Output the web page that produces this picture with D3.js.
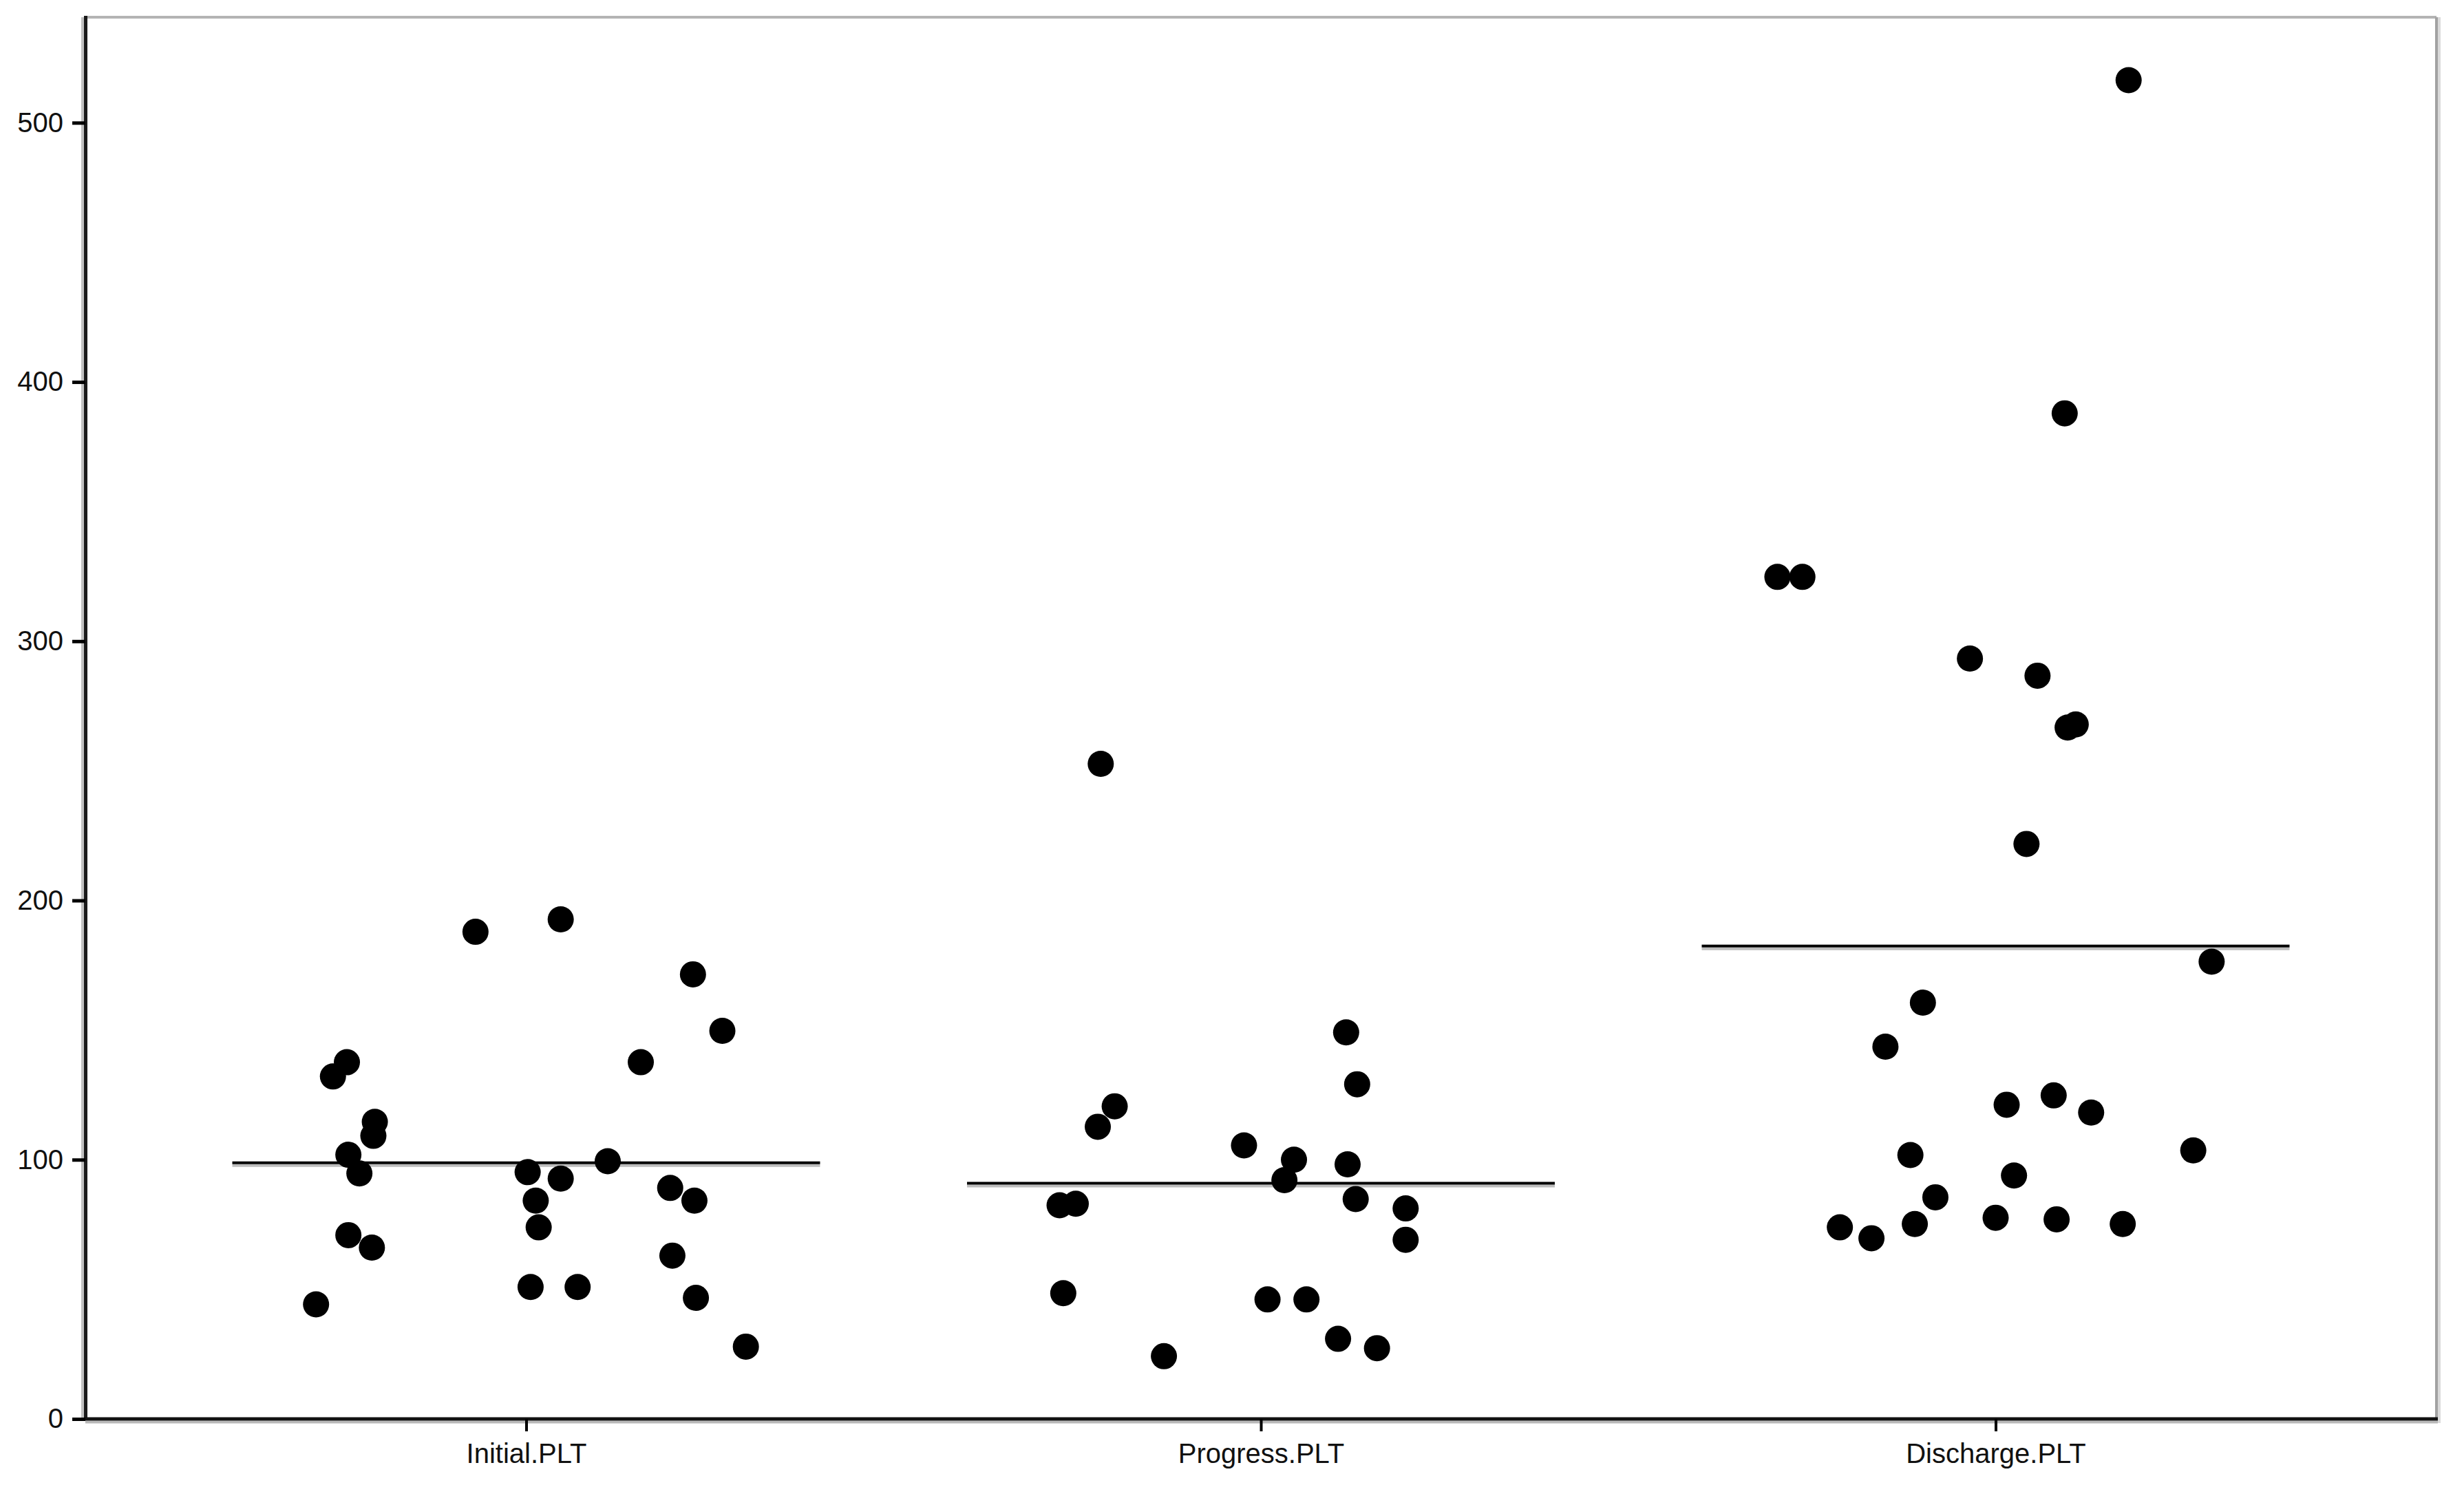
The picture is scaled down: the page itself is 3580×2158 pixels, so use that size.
<!DOCTYPE html>
<html>
<head>
<meta charset="utf-8">
<script src="https://cdn.jsdelivr.net/npm/d3@7"></script>
<style>
  body { margin: 0; background: #fff; }
  text { font-family: "Liberation Sans", Arial, sans-serif; }
</style>
</head>
<body>
<script>
// categories and tick labels
var categories = ["Initial.PLT", "Progress.PLT", "Discharge.PLT"];
var yTicks = [0, 100, 200, 300, 400, 500];

// values
var initialPLT = [44.2, 132.1, 137.6, 101.9, 94.7, 109.2, 114.6, 70.9, 66.1, 187.9, 192.7, 95.2, 84.2,
  92.7, 73.9, 50.9, 50.9, 99.4, 137.6, 171.5, 149.7, 89.1, 84.2, 63.0, 46.7, 27.9];
var progressPLT = [252.7, 112.7, 120.6, 82.4, 83.0, 48.5, 24.2, 105.5, 100.0, 92.1, 149.1, 129.1,
  98.2, 84.8, 81.2, 69.1, 46.1, 46.1, 30.9, 27.3];
var dischargePLT = [516.4, 387.9, 324.8, 324.8, 293.3, 286.7, 266.7, 267.9, 221.8, 176.4, 160.6, 143.6,
  121.2, 124.8, 118.2, 101.8, 103.6, 93.9, 85.5, 73.9, 69.7, 75.2, 77.6, 77.0, 75.2];

// horizontal jitter of each point, as a fraction of the category step
var initialJitter = [-0.286, -0.263, -0.244, -0.242, -0.227, -0.208, -0.206, -0.242, -0.210, -0.069, 0.047, 0.002, 0.013,
  0.047, 0.017, 0.006, 0.070, 0.111, 0.156, 0.227, 0.267, 0.196, 0.229, 0.199, 0.231, 0.299];
var progressJitter = [-0.218, -0.222, -0.199, -0.274, -0.252, -0.269, -0.132, -0.023, 0.045, 0.032, 0.116, 0.131,
  0.118, 0.129, 0.197, 0.197, 0.009, 0.062, 0.105, 0.158];
var dischargeJitter = [0.181, 0.094, -0.297, -0.263, -0.035, 0.057, 0.098, 0.109, 0.042, 0.294, -0.099, -0.150,
  0.015, 0.079, 0.130, -0.116, 0.269, 0.025, -0.082, -0.212, -0.169, -0.110, 0.000, 0.083, 0.173];

// group means (horizontal bars)
var meanPLT = [98.8, 90.9, 182.4];

var width = 3580, height = 2158;
// note: "top" is taken by window.top, so use other names
var plotLeft = 124, plotRight = 3540, plotTop = 25, plotBottom = 2062;
var yMax = 540.7;

var svg = d3.select("body").append("svg")
  .attr("width", width)
  .attr("height", height);

var x = d3.scalePoint().domain(categories).range([plotLeft, plotRight]).padding(0.6);
var y = d3.scaleLinear().domain([0, yMax]).range([plotBottom, plotTop]);

// frame: grey top/right, black left/bottom with a soft grey edge
var frame = svg.append("g").attr("class", "frame");
frame.append("line").attr("x1", plotLeft).attr("x2", plotRight).attr("y1", plotTop).attr("y2", plotTop)
  .attr("stroke", "#b4b4b4").attr("stroke-width", 4);
frame.append("line").attr("x1", plotRight + 4).attr("x2", plotRight + 4).attr("y1", plotTop).attr("y2", plotBottom + 6)
  .attr("stroke", "#dadada").attr("stroke-width", 4);
frame.append("line").attr("x1", plotRight).attr("x2", plotRight).attr("y1", plotTop).attr("y2", plotBottom + 2)
  .attr("stroke", "#a2a2a2").attr("stroke-width", 4);
frame.append("line").attr("x1", plotLeft - 4).attr("x2", plotLeft - 4).attr("y1", plotTop).attr("y2", plotBottom)
  .attr("stroke", "#c0c0c0").attr("stroke-width", 4);
frame.append("line").attr("x1", plotLeft).attr("x2", plotRight + 2).attr("y1", plotBottom + 4.5).attr("y2", plotBottom + 4.5)
  .attr("stroke", "#b8b8b8").attr("stroke-width", 4);
frame.append("line").attr("x1", plotLeft + 0.5).attr("x2", plotLeft + 0.5).attr("y1", plotTop - 2).attr("y2", plotBottom)
  .attr("stroke", "#1a1a1a").attr("stroke-width", 5);
frame.append("line").attr("x1", plotLeft - 2).attr("x2", plotRight + 2).attr("y1", plotBottom).attr("y2", plotBottom)
  .attr("stroke", "#111").attr("stroke-width", 5);

// axes
var yAxis = svg.append("g")
  .attr("transform", "translate(" + plotLeft + ",0)")
  .call(d3.axisLeft(y).tickValues(yTicks).tickSize(19).tickPadding(13).tickSizeOuter(0));
yAxis.select(".domain").remove();
yAxis.selectAll(".tick line").attr("stroke", "#000").attr("stroke-width", 5);
yAxis.selectAll(".tick text").attr("font-size", 40).attr("fill", "#111")
  .style("font-family", "'Liberation Sans', Arial, sans-serif");

var xAxis = svg.append("g")
  .attr("transform", "translate(0," + plotBottom + ")")
  .call(d3.axisBottom(x).tickSize(18).tickPadding(18).tickSizeOuter(0));
xAxis.select(".domain").remove();
xAxis.selectAll(".tick line").attr("stroke", "#000").attr("stroke-width", 4);
xAxis.selectAll(".tick text").attr("font-size", 40).attr("fill", "#111")
  .style("font-family", "'Liberation Sans', Arial, sans-serif");

// mean lines
var half = x.step() * 0.4;
var means = svg.append("g").attr("class", "means");
means.selectAll("line.shadow")
  .data(categories)
  .enter().append("line")
    .attr("class", "shadow")
    .attr("x1", function(d) { return x(d) - half; })
    .attr("x2", function(d) { return x(d) + half; })
    .attr("y1", function(d, i) { return y(meanPLT[i]) + 4; })
    .attr("y2", function(d, i) { return y(meanPLT[i]) + 4; })
    .attr("stroke", "#bdbdbd").attr("stroke-width", 4);
means.selectAll("line.mean")
  .data(categories)
  .enter().append("line")
    .attr("class", "mean")
    .attr("x1", function(d) { return x(d) - half; })
    .attr("x2", function(d) { return x(d) + half; })
    .attr("y1", function(d, i) { return y(meanPLT[i]); })
    .attr("y2", function(d, i) { return y(meanPLT[i]); })
    .attr("stroke", "#000").attr("stroke-width", 4);

// points
var values = [initialPLT, progressPLT, dischargePLT];
var jitters = [initialJitter, progressJitter, dischargeJitter];
var points = [];
categories.forEach(function(c, i) {
  values[i].forEach(function(v, k) {
    points.push({ cat: c, value: v, jitter: jitters[i][k] });
  });
});

svg.append("g").attr("class", "points")
  .selectAll("circle")
  .data(points)
  .enter().append("circle")
    .attr("cx", function(d) { return x(d.cat) + d.jitter * x.step(); })
    .attr("cy", function(d) { return y(d.value); })
    .attr("r", 19)
    .attr("fill", "#000");
</script>
</body>
</html>
